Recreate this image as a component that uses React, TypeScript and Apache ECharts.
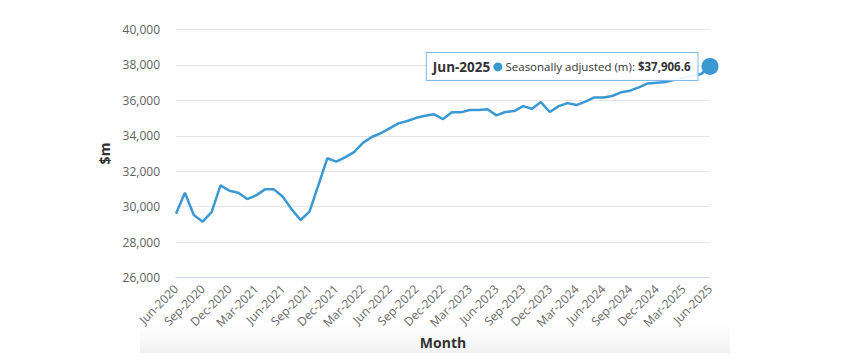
import React, { useEffect, useRef } from "react";
import * as echarts from "echarts";

const months: string[] = [
  "Jun-2020", "Jul-2020", "Aug-2020", "Sep-2020", "Oct-2020", "Nov-2020", "Dec-2020",
  "Jan-2021", "Feb-2021", "Mar-2021", "Apr-2021", "May-2021", "Jun-2021", "Jul-2021", "Aug-2021", "Sep-2021", "Oct-2021", "Nov-2021", "Dec-2021",
  "Jan-2022", "Feb-2022", "Mar-2022", "Apr-2022", "May-2022", "Jun-2022", "Jul-2022", "Aug-2022", "Sep-2022", "Oct-2022", "Nov-2022", "Dec-2022",
  "Jan-2023", "Feb-2023", "Mar-2023", "Apr-2023", "May-2023", "Jun-2023", "Jul-2023", "Aug-2023", "Sep-2023", "Oct-2023", "Nov-2023", "Dec-2023",
  "Jan-2024", "Feb-2024", "Mar-2024", "Apr-2024", "May-2024", "Jun-2024", "Jul-2024", "Aug-2024", "Sep-2024", "Oct-2024", "Nov-2024", "Dec-2024",
  "Jan-2025", "Feb-2025", "Mar-2025", "Apr-2025", "May-2025", "Jun-2025",
];

const seasonallyAdjusted: number[] = [
  29600, 30790, 29530, 29160, 29690, 31200, 30900,
  30790, 30430, 30640, 30980, 30980, 30560, 29850, 29250, 29720, 31220, 32730, 32540,
  32780, 33080, 33600, 33930, 34140, 34420, 34700, 34830, 35010, 35130, 35210, 34940,
  35320, 35320, 35450, 35450, 35490, 35150, 35340, 35390, 35670, 35520, 35900, 35340,
  35670, 35840, 35730, 35920, 36160, 36160, 36240, 36450, 36540, 36730, 36950, 36990,
  37030, 37150, 37270, 37380, 37480, 37906.6,
];

const seriesName = "Seasonally adjusted (m)";
const yMin = 26000;
const yMax = 40000;
const yStep = 2000;

const LINE = "#3a98d3";
const FONT = "'Open Sans', 'Noto Sans', sans-serif";

export default function App() {
  const ref = useRef<HTMLDivElement>(null);
  useEffect(() => {
    if (!ref.current) return;
    const chart = echarts.init(ref.current, undefined, { renderer: "svg" });
    const last = seasonallyAdjusted.length - 1;
    const fmt = (v: number) =>
      v.toLocaleString("en-US", { minimumFractionDigits: 1, maximumFractionDigits: 1 });
    const data = seasonallyAdjusted.map((v, i) =>
      i === last
        ? {
            value: v,
            symbol: "circle",
            symbolSize: 17,
            itemStyle: { color: LINE },
            label: {
              show: true,
              position: "left",
              distance: 4,
              backgroundColor: "rgba(255,255,255,0.92)",
              borderColor: "#7dbce6",
              borderWidth: 1,
              padding: [7, 7, 6, 6],
              formatter: () =>
                `{h|${months[i]}} {dot|} {t|${seriesName}: }{v|$${fmt(v)}}`,
              rich: {
                h: { fontFamily: FONT, fontSize: 13.5, fontWeight: "bold", color: "#333" },
                dot: { width: 9, height: 9, borderRadius: 5, backgroundColor: LINE },
                t: { fontFamily: FONT, fontSize: 11.5, color: "#333" },
                v: { fontFamily: FONT, fontSize: 11.5, fontWeight: "bold", color: "#333" },
              },
            },
          }
        : v
    );
    chart.setOption({
      animation: false,
      textStyle: { fontFamily: FONT },
      graphic: [
        {
          type: "rect",
          z: -10,
          silent: true,
          shape: { x: 140, y: 322, width: 590, height: 31 },
          style: {
            fill: new echarts.graphic.LinearGradient(0, 0, 0, 1, [
              { offset: 0, color: "rgba(240,240,240,0)" },
              { offset: 1, color: "rgba(236,236,236,0.7)" },
            ]),
          },
        },
      ],
      grid: { left: 176, right: 152, top: 29.3, bottom: 83.3, containLabel: false },
      xAxis: {
        type: "category",
        data: months,
        boundaryGap: false,
        name: "Month",
        nameLocation: "middle",
        nameGap: 58,
        nameTextStyle: { fontFamily: FONT, fontSize: 14, fontWeight: "bold", color: "#333" },
        axisLine: { lineStyle: { color: "#ccd6eb", width: 1 } },
        axisTick: { show: false },
        axisLabel: {
          interval: 2,
          rotate: 45,
          fontFamily: FONT,
          fontSize: 12,
          color: "#666",
          margin: 9,
        },
        splitLine: { show: false },
      },
      yAxis: {
        type: "value",
        min: yMin,
        max: yMax,
        interval: yStep,
        name: "$m",
        nameLocation: "middle",
        nameGap: 60,
        nameTextStyle: { fontFamily: FONT, fontSize: 14, fontWeight: "bold", color: "#333" },
        axisLine: { show: false },
        axisTick: { show: false },
        axisLabel: {
          fontFamily: FONT,
          fontSize: 12,
          color: "#606060",
          margin: 16,
          formatter: (v: number) => v.toLocaleString("en-US"),
        },
        splitLine: { lineStyle: { color: "#e6e6e6", width: 1 } },
      },
      series: [
        {
          type: "line",
          name: seriesName,
          data,
          symbol: "none",
          lineStyle: { color: LINE, width: 2.5 },
          itemStyle: { color: LINE },
          z: 3,
        },
      ],
    });
    return () => chart.dispose();
  }, []);
  return (
    <div
      ref={ref}
      style={{ position: "fixed", left: 0, top: 0, width: 862, height: 361, background: "#fff" }}
    />
  );
}
